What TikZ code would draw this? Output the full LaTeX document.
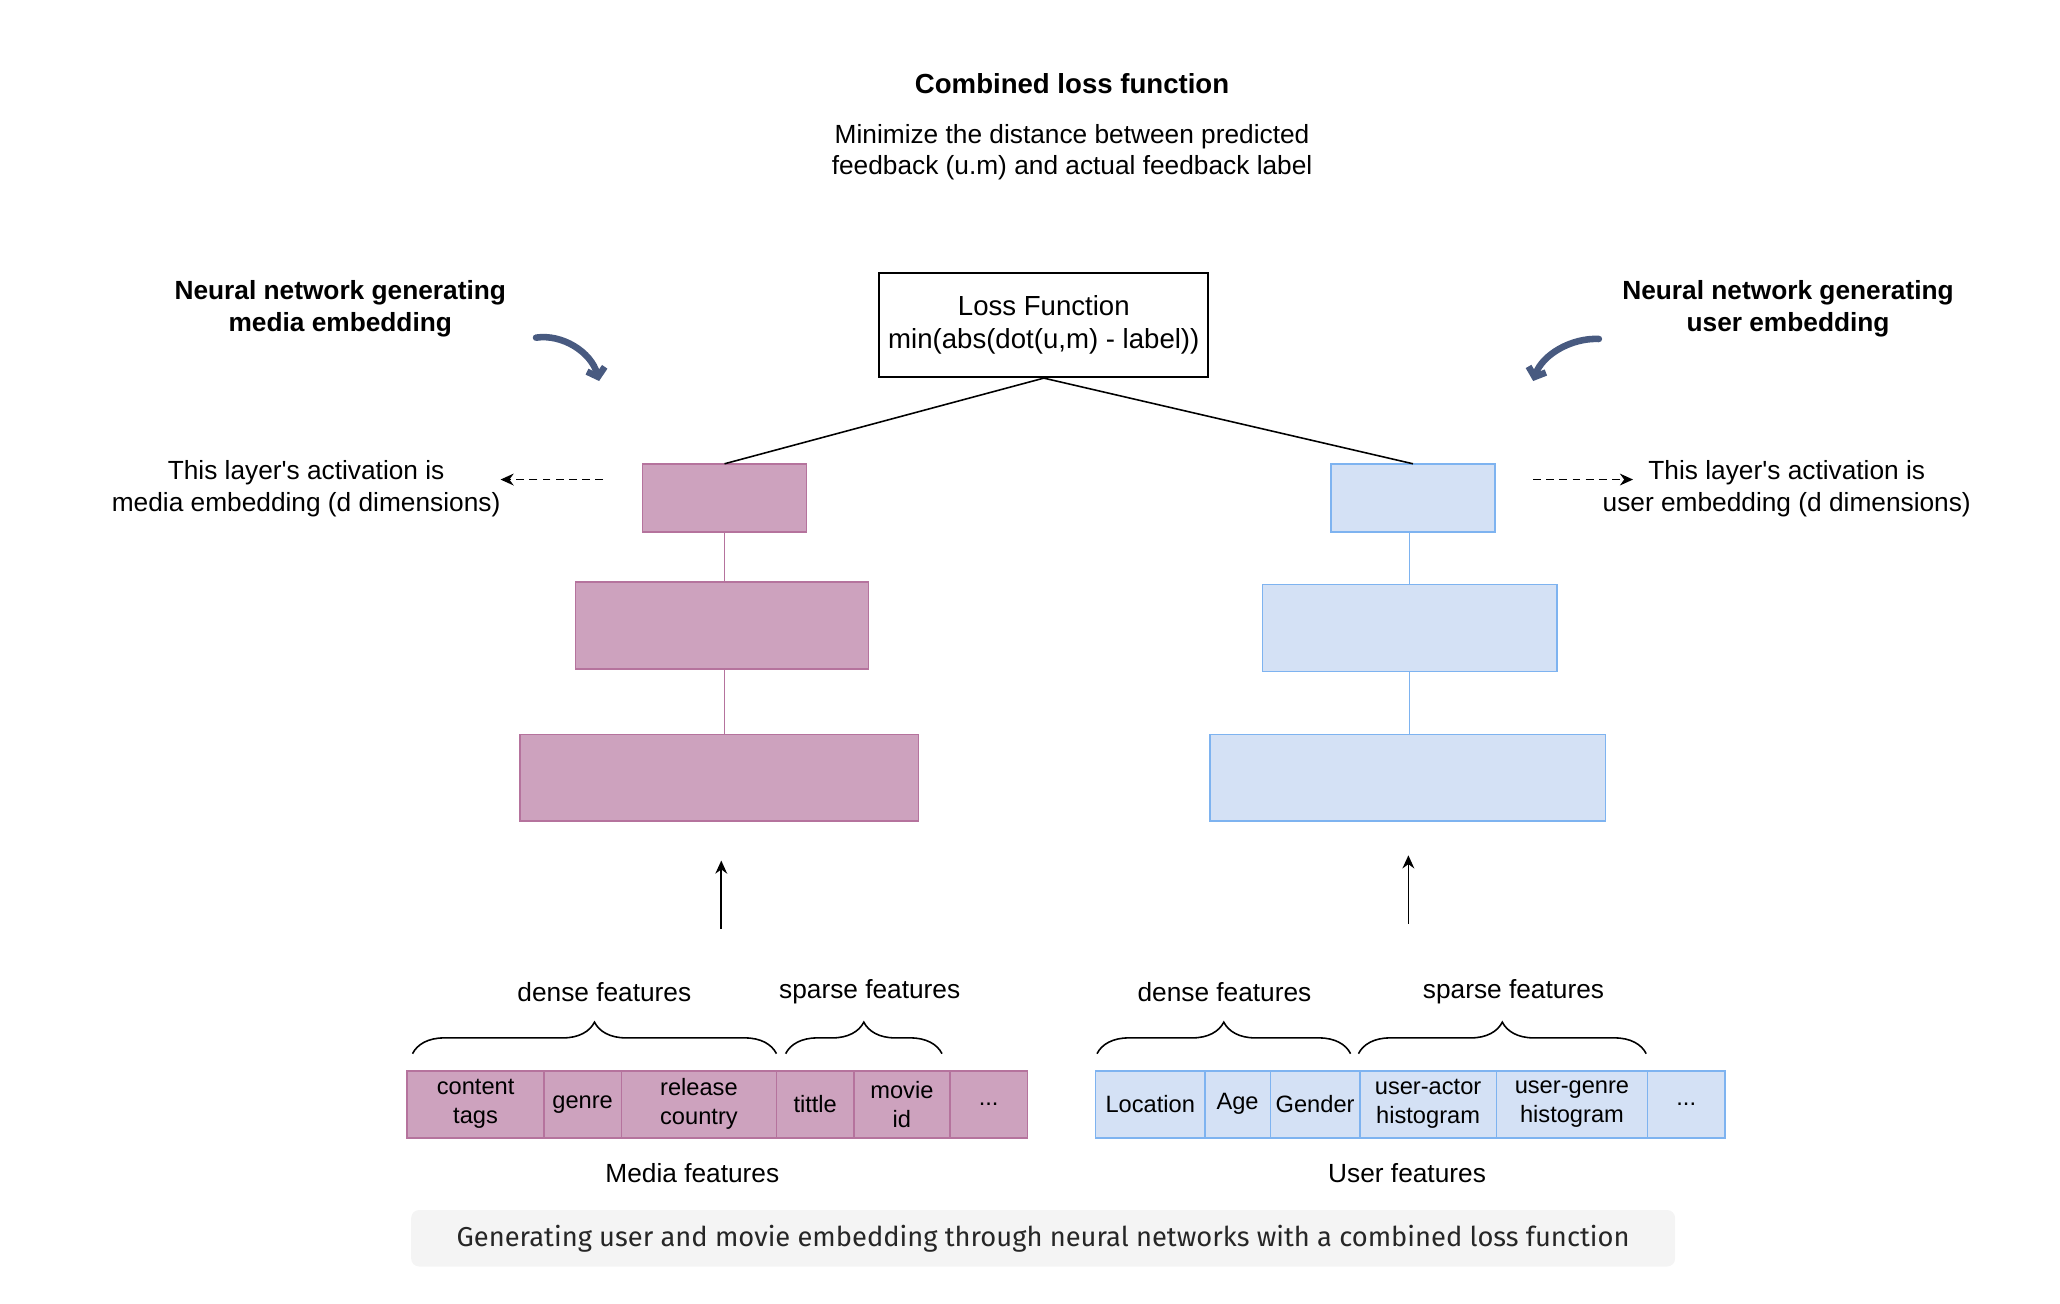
\documentclass[tikz,border=0pt]{standalone}
\usepackage{xcolor}
\usepackage{fontspec}
\setmainfont{Liberation Sans}
\newfontfamily\capfont{Fira Sans}
\usepackage{tikz}
\usetikzlibrary{arrows.meta, positioning, decorations.pathreplacing}
\definecolor{mediafill}{HTML}{CDA2BE}
\definecolor{medialine}{HTML}{B5739D}
\definecolor{userfill}{HTML}{D4E1F5}
\definecolor{userline}{HTML}{7EB3F0}
\definecolor{bentcol}{HTML}{485A80}
\definecolor{capfill}{HTML}{F4F4F4}
\tikzset{
    mediabox/.style = {
        rectangle,
        draw=medialine,
        fill=mediafill,
        line width=0.6pt,
        inner sep=0pt,
        outer sep=0pt
    },
    userbox/.style = {
        rectangle,
        draw=userline,
        fill=userfill,
        line width=0.6pt,
        inner sep=0pt,
        outer sep=0pt
    },
    mcell/.style = {
        mediabox,
        minimum height=25.5pt,
        align=center,
        font=\fontsize{9}{11}\selectfont
    },
    ucell/.style = {
        userbox,
        minimum height=25.5pt,
        align=center,
        font=\fontsize{9}{11}\selectfont
    },
    arrowline/.style = {
        draw,
        line width=0.6pt,
        -{Stealth[length=5pt, width=4.5pt]}
    },
    bentarrow/.style = {
        draw=bentcol,
        line width=2.5pt,
        line cap=round,
        -{Straight Barb[length=3pt, width=7pt]}
    },
    brace/.style = {
        draw,
        line width=0.6pt,
        decorate,
        decoration={brace, amplitude=12pt}
    }
}

\begin{document}
\begin{tikzpicture}[
    x=0.5pt, y=-0.5pt,
    note/.style={align=center, font=\fontsize{10}{12}\selectfont},
    heading/.style={align=center, font=\bfseries\fontsize{10}{12}\selectfont}
]
\useasboundingbox (0,0) rectangle (1568,992.5);

% Top texts
\node [heading, font=\bfseries\fontsize{10.5}{12}\selectfont] (title) at (816,64) {Combined loss function};
\node [note] (goal) at (816,116) {Minimize the distance between predicted\\feedback (u.m) and actual feedback label};

% Loss box
\node [draw, line width=0.8pt, minimum width=124.5pt, minimum height=39.5pt, align=center,
       font=\fontsize{10.5}{12.5}\selectfont] (loss) at (794.5,247.5)
      {Loss Function\\min(abs(dot(u,m) - label))};

% Media tower
\node [mediabox, minimum width=62.5pt, minimum height=26pt] (mb1) at (551.5,379) {};
\node [mediabox, minimum width=111.5pt, minimum height=33pt] (mb2) at (549.5,476) {};
\node [mediabox, minimum width=151.5pt, minimum height=33pt] (mb3) at (547.5,592) {};
\draw [medialine, line width=0.6pt] (mb1.south) -- (mb1.south |- mb2.north);
\draw [medialine, line width=0.6pt] (mb1.south |- mb2.south) -- (mb1.south |- mb3.north);

% User tower
\node [userbox, minimum width=62.5pt, minimum height=26pt] (ub1) at (1075.5,379) {};
\node [userbox, minimum width=112pt, minimum height=33pt] (ub2) at (1073,478) {};
\node [userbox, minimum width=150.5pt, minimum height=33pt] (ub3) at (1071.5,592) {};
\draw [userline, line width=0.6pt] (ub2.north |- ub1.south) -- (ub2.north);
\draw [userline, line width=0.6pt] (ub2.south) -- (ub2.south |- ub3.north);

% Loss connections
\draw [line width=0.6pt] (loss.south) -- (mb1.north);
\draw [line width=0.6pt] (loss.south) -- (ub1.north);

% Side notes
\node [heading] (mnet) at (259,235) {Neural network generating\\media embedding};
\node [heading] (unet) at (1361,235) {Neural network generating\\user embedding};
\node [note] (mact) at (233,372) {This layer\textquotesingle s activation is\\media embedding (d dimensions)};
\node [note] (uact) at (1360,372) {This layer\textquotesingle s activation is\\user embedding (d dimensions)};

\coordinate (mdash0) at (459,365);
\coordinate (mdash1) at (381,365);
\coordinate (udash0) at (1167,365);
\coordinate (udash1) at (1243,365);
\draw [arrowline, dash pattern=on 3pt off 2pt] (mdash0) -- (mdash1);
\draw [arrowline, dash pattern=on 3pt off 2pt] (udash0) -- (udash1);

% Bent arrows
\coordinate (mbent0) at (408,257);
\coordinate (mbent1) at (456,290);
\coordinate (ubent0) at (1217,258);
\coordinate (ubent1) at (1167,290);
\draw [bentarrow] (mbent0) .. controls (428,254) and (450,268) .. (mbent1);
\draw [bentarrow] (ubent0) .. controls (1196,257) and (1174,270) .. (ubent1);

% Input arrows
\coordinate (mup0) at (549,707);
\coordinate (mup1) at (549,655);
\coordinate (uup0) at (1072,703);
\coordinate (uup1) at (1072,651);
\draw [arrowline] (mup0) -- (mup1);
\draw [arrowline] (uup0) -- (uup1);

% Media features
\node [mcell, minimum width=52pt] (m1) at (362,840.5) {content\\tags};
\node [mcell, minimum width=29.5pt, right=0pt of m1] (m2) {genre};
\node [mcell, minimum width=59pt, right=0pt of m2] (m3) {release\\country};
\node [mcell, minimum width=29.5pt, right=0pt of m3] (m4) {tittle};
\node [mcell, minimum width=36.5pt, right=0pt of m4] (m5) {movie\\id};
\node [mcell, minimum width=29.5pt, right=0pt of m5] (m6) {...};
\node [note] (mfeat) at (527,893) {Media features};

% User features
\node [ucell, minimum width=41.5pt] (u1) at (875.5,840.5) {Location};
\node [ucell, minimum width=25pt, right=0pt of u1] (u2) {Age};
\node [ucell, minimum width=34pt, right=0pt of u2] (u3) {Gender};
\node [ucell, minimum width=52pt, right=0pt of u3] (u4) {user-actor\\histogram};
\node [ucell, minimum width=57.5pt, right=0pt of u4] (u5) {user-genre\\histogram};
\node [ucell, minimum width=29.5pt, right=0pt of u5] (u6) {...};
\node [note] (ufeat) at (1071,893) {User features};

% Braces
\draw [brace] (314,802) -- (591,802);
\draw [brace] (598,802) -- (717,802);
\draw [brace] (835,802) -- (1028,802);
\draw [brace] (1034,802) -- (1253,802);
\node [note] (mdense) at (460,755) {dense features};
\node [note] (msparse) at (662,755) {sparse features};
\node [note] (udense) at (932,755) {dense features};
\node [note] (usparse) at (1152,755) {sparse features};

% Caption
\node [rectangle, fill=capfill, rounded corners=3pt, minimum width=481pt, minimum height=21.5pt,
       font=\capfont\fontsize{10.4}{12}\selectfont, text=black!85] (caption) at (794,942.5)
      {Generating user and movie embedding through neural networks with a combined loss function};

\end{tikzpicture}
\end{document}
